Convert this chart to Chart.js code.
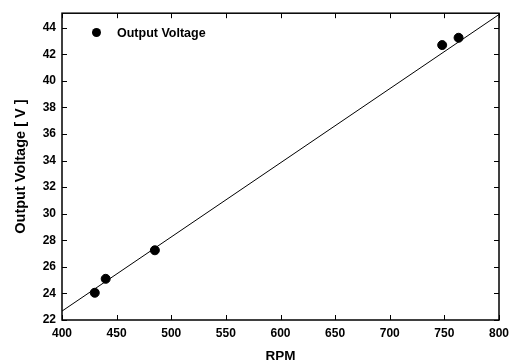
<!DOCTYPE html>
<html lang="en">
<head>
  <meta charset="UTF-8">
  <title>Output Voltage vs RPM</title>
  <script src="https://cdn.jsdelivr.net/npm/chart.js"></script>
  <style>
    html, body { margin: 0; padding: 0; background: #fff; }
    .wrap { position: relative; width: 520px; height: 364px; }
    .legend {
      position: absolute; left: 92px; top: 26px;
      font: bold 12.5px "Liberation Sans", Arial, sans-serif; color: #000;
      line-height: 14px;
    }
    .legend .dot {
      display: inline-block; width: 9px; height: 9px; border-radius: 50%;
      background: #000; margin-right: 16px; vertical-align: 0px;
    }
  </style>
</head>
<body>
  <div class="wrap">
    <canvas id="myChart" width="520" height="364"></canvas>
    <div class="legend"><span class="dot"></span>Output Voltage</div>
  </div>

  <script>
    // measured points
    const rpm = [430, 440, 485, 748, 763];
    const voltage = [24.05, 25.1, 27.25, 42.7, 43.25];

    // fitted line ends
    const fitRpm = [400, 800];
    const fitVoltage = [22.67, 45.0];

    const xTicks = [400, 450, 500, 550, 600, 650, 700, 750, 800];
    const yTicks = [22, 24, 26, 28, 30, 32, 34, 36, 38, 40, 42, 44];

    const font = { family: '"Liberation Sans", Arial, sans-serif', weight: 'bold' };

    // small inward ticks on all four sides + frame
    const innerTicks = {
      id: 'innerTicks',
      afterDraw(chart) {
        const ctx = chart.ctx;
        const a = chart.chartArea;
        const x = chart.scales.x, y = chart.scales.y;
        ctx.save();
        ctx.strokeStyle = '#000';
        ctx.lineWidth = 1;
        ctx.beginPath();
        xTicks.forEach(v => {
          const px = Math.round(x.getPixelForValue(v)) + 0.5;
          ctx.moveTo(px, a.bottom); ctx.lineTo(px, a.bottom - 5);
          ctx.moveTo(px, a.top); ctx.lineTo(px, a.top + 5);
        });
        yTicks.forEach(v => {
          const py = Math.round(y.getPixelForValue(v)) + 0.5;
          ctx.moveTo(a.left, py); ctx.lineTo(a.left + 5, py);
          ctx.moveTo(a.right, py); ctx.lineTo(a.right - 5, py);
        });
        ctx.stroke();
        ctx.lineWidth = 1.5;
        ctx.strokeRect(a.left, a.top, a.right - a.left, a.bottom - a.top);
        ctx.restore();
      }
    };

    new Chart(document.getElementById('myChart'), {
      type: 'scatter',
      data: {
        datasets: [
          {
            label: 'Output Voltage',
            data: rpm.map((v, i) => ({ x: v, y: voltage[i] })),
            backgroundColor: '#000',
            borderColor: '#000',
            pointRadius: 4.5,
            pointHoverRadius: 4.5
          },
          {
            label: 'Fit',
            data: fitRpm.map((v, i) => ({ x: v, y: fitVoltage[i] })),
            showLine: true,
            borderColor: '#000',
            borderWidth: 1,
            pointRadius: 0,
            fill: false
          }
        ]
      },
      options: {
        responsive: false,
        animation: false,
        layout: { padding: { top: 10, right: 21, left: 0, bottom: 0 } },
        plugins: { legend: { display: false }, tooltip: { enabled: false } },
        scales: {
          x: {
            type: 'linear', min: 400, max: 800,
            afterBuildTicks: s => { s.ticks = xTicks.map(v => ({ value: v })); },
            afterFit: s => { s.height = 44; },
            grid: { display: false, drawTicks: false, tickLength: 0 },
            border: { display: false },
            ticks: { color: '#000', font: { ...font, size: 12 }, padding: 6, maxRotation: 0 },
            title: { display: true, text: 'RPM', color: '#000', font: { ...font, size: 13.5 }, padding: { top: 4, bottom: 0 } }
          },
          y: {
            type: 'linear', min: 22, max: 45.1,
            afterBuildTicks: s => { s.ticks = yTicks.map(v => ({ value: v })); },
            afterFit: s => { s.width = 62; },
            grid: { display: false, drawTicks: false, tickLength: 0 },
            border: { display: false },
            ticks: { color: '#000', font: { ...font, size: 12 }, padding: 6 },
            title: { display: true, text: 'Output Voltage [ V ]', color: '#000', font: { ...font, size: 14.5 }, padding: { top: 12, bottom: 4 } }
          }
        }
      },
      plugins: [innerTicks]
    });
  </script>
</body>
</html>
